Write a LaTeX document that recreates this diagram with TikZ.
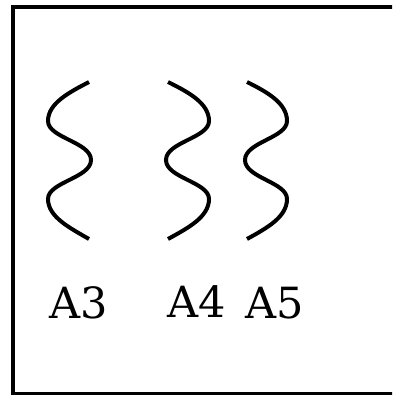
\documentclass[tikz,border=0pt]{standalone}
\usepackage{fontspec}
\setmainfont{DejaVu Serif}
\begin{document}
\begin{tikzpicture}[x=1pt,y=-1pt,
  wave/.style={line width=4pt,line cap=butt},
  frame/.style={line width=4pt},
  lbl/.style={inner sep=0pt,anchor=base,font=\fontsize{43}{43}\selectfont}]
\useasboundingbox (0,0) rectangle (392,395);
\clip (0,0) rectangle (392,395);
\draw[frame] (13,7) rectangle (420,393.5);
% A3 wave
\draw[wave] (89,82) .. controls (70,92) and (48,103) .. (48,121)
  .. controls (48,138) and (91,142) .. (91,160)
  .. controls (91,178) and (48,182) .. (48,199)
  .. controls (48,217) and (70,228) .. (89,239);
% A4 wave
\draw[wave] (168,82) .. controls (188,92) and (209,103) .. (209,121)
  .. controls (209,138) and (166,142) .. (166,160)
  .. controls (166,178) and (209,182) .. (209,199)
  .. controls (209,217) and (188,228) .. (168,239);
% A5 wave
\draw[wave] (247,82) .. controls (267,92) and (287,103) .. (287,121)
  .. controls (287,138) and (245,142) .. (245,160)
  .. controls (245,178) and (287,182) .. (287,199)
  .. controls (287,217) and (267,228) .. (247,239);
\node[lbl] (a3) at (78.5,318) {A3};
\node[lbl] (a4) at (197,317) {A4};
\node[lbl] (a5) at (274.5,318) {A5};
\end{tikzpicture}
\end{document}
